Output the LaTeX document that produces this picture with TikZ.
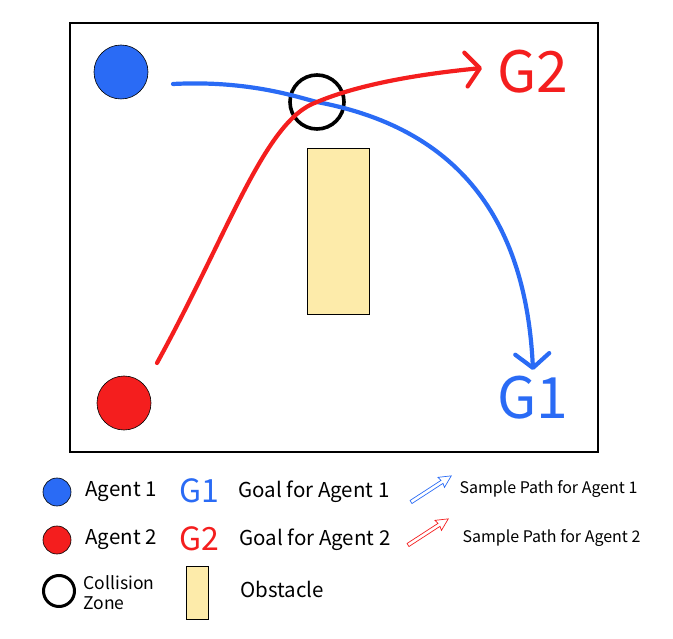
\documentclass[tikz,border=0pt]{standalone}
\usepackage{fontspec}
\setmainfont{Noto Sans CJK SC}
\usepackage{xcolor}
\usetikzlibrary{arrows.meta}
\definecolor{agentblue}{HTML}{2A6BF5}
\definecolor{agentred}{HTML}{F41E1E}
\definecolor{obstfill}{HTML}{FDEBAA}
\begin{document}
\begin{tikzpicture}[x=1pt,y=-1pt,
  agent/.style={circle, draw=black, line width=0.6pt, minimum size=#1, inner sep=0pt},
  zone/.style={circle, draw=black, line width=#1, minimum size=54pt, inner sep=0pt},
  pathline/.style={line width=4.2pt, line cap=round, -{Straight Barb[round, length=14pt, width=34pt]}},
  legtext/.style={anchor=west, font=\fontsize{20.5}{22}\selectfont},
  smalltext/.style={anchor=west, font=\fontsize{16}{18}\selectfont},
  hollow/.style={draw=#1, line width=0.7pt, line join=miter}]
\useasboundingbox (0,0) rectangle (673,639);

% Set up the field
\draw[line width=2pt] (70,23) rectangle (598,452);

% Agents, collision zone, obstacle
\node[agent=54pt, fill=agentblue] (A1) at (121,72) {};
\node[agent=54pt, fill=agentred] (A2) at (124,403) {};
\node[zone=3.6pt] (Z) at (317,102) {};
\draw[fill=obstfill, line width=0.6pt] (307,148) rectangle (369,314);

% Goals
\node[text=agentblue, font=\fontsize{57}{60}\selectfont] (G1) at (533,398) {G1};
\node[text=agentred, font=\fontsize{57}{60}\selectfont] (G2) at (533,72) {G2};

% Sample paths
\coordinate (s1) at (173,84);
\coordinate (e1) at (533,370);
\coordinate (s2) at (157,363);
\coordinate (e2) at (482,68);
\draw[pathline, agentblue] (s1) .. controls (250,80) and (300,98) .. (Z.center)
  .. controls (440,125) and (525,200) .. (e1);
\draw[pathline, agentred] (s2) .. controls (230,230) and (265,120) .. (Z.center)
  .. controls (360,84) and (420,74) .. (e2);

% Legend
\node[agent=28pt, fill=agentblue] (L1) at (57,492) {};
\node[legtext] (L1t) at (82,492) {Agent 1};
\node[text=agentblue, font=\fontsize{32}{34}\selectfont] (L1g) at (199,491) {G1};
\node[legtext] (L1d) at (235,492) {Goal for Agent 1};
\draw[hollow=agentblue, shift={(411,502)}, rotate=33]
  (0,-1.8) -- (37,-1.8) -- (36,-6) -- (48,0) -- (36,6) -- (37,1.8) -- (0,1.8) -- cycle;
\node[smalltext] (L1p) at (456,489) {Sample Path for Agent 1};

\node[agent=28pt, fill=agentred] (L2) at (57,540) {};
\node[legtext] (L2t) at (82,540) {Agent 2};
\node[text=agentred, font=\fontsize{32}{34}\selectfont] (L2g) at (199,539) {G2};
\node[legtext] (L2d) at (236,540) {Goal for Agent 2};
\draw[hollow=agentred, shift={(408,545)}, rotate=33]
  (0,-1.8) -- (37,-1.8) -- (36,-6) -- (48,0) -- (36,6) -- (37,1.8) -- (0,1.8) -- cycle;
\node[smalltext] (L2p) at (459,538) {Sample Path for Agent 2};

\node[zone=3pt, minimum size=31pt] (L3) at (59,591) {};
\node[anchor=west, align=left, font=\fontsize{17.5}{20}\selectfont] (L3t) at (80,593) {Collision\\Zone};
\draw[fill=obstfill, line width=0.6pt] (186,566) rectangle (208,619);
\node[legtext] (L4t) at (237,589) {Obstacle};
\end{tikzpicture}
\end{document}
